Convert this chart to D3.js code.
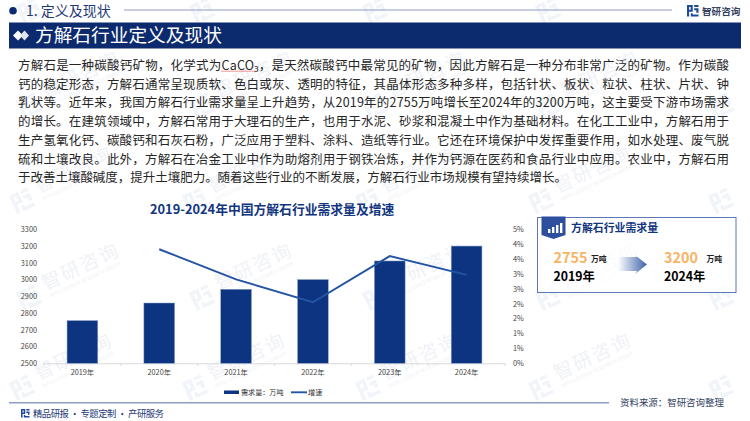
<!DOCTYPE html>
<html>
<head>
<meta charset="utf-8">
<script src="https://cdn.jsdelivr.net/npm/d3@7"></script>
<style>
    body { margin: 0; background: #fff; }
    svg { display: block; font-family: "Noto Sans CJK SC", "Noto Sans", sans-serif; }
</style>
</head>
<body>
<div id="chart"></div>
<script>
// chart data
const years = ["2019年", "2020年", "2021年", "2022年", "2023年", "2024年"];
const demand = [2755, 2860, 2942, 3000, 3111, 3200];
const growth = [null, 3.83, 2.82, 2.05, 3.6, 2.97];
const demandTicks = [2500, 2600, 2700, 2800, 2900, 3000, 3100, 3200, 3300];
const growthTicks = [0, 0.5, 1, 1.5, 2, 2.5, 3, 3.5, 4, 4.5];
const growthTickLabels = ["0%", "1%", "1%", "2%", "2%", "3%", "3%", "4%", "4%", "5%"];

const bodyLines = [
    "方解石是一种碳酸钙矿物，化学式为CaCO₃，是天然碳酸钙中最常见的矿物，因此方解石是一种分布非常广泛的矿物。作为碳酸",
    "钙的稳定形态，方解石通常呈现质软、色白或灰、透明的特征，其晶体形态多种多样，包括针状、板状、粒状、柱状、片状、钟",
    "乳状等。近年来，我国方解石行业需求量呈上升趋势，从2019年的2755万吨增长至2024年的3200万吨，这主要受下游市场需求",
    "的增长。在建筑领域中，方解石常用于大理石的生产，也用于水泥、砂浆和混凝土中作为基础材料。在化工工业中，方解石用于",
    "生产氢氧化钙、碳酸钙和石灰石粉，广泛应用于塑料、涂料、造纸等行业。它还在环境保护中发挥重要作用，如水处理、废气脱",
    "硫和土壤改良。此外，方解石在冶金工业中作为助熔剂用于钢铁冶炼，并作为钙源在医药和食品行业中应用。农业中，方解石用",
    "于改善土壤酸碱度，提升土壤肥力。随着这些行业的不断发展，方解石行业市场规模有望持续增长。"
];

const navy = "#0c2a6e";
const barBlue = "#0d3480";
const lineBlue = "#2454a4";
const ruleBlue = "#8c9dc6";
const textBlue = "#1f3a78";

const svg = d3.select("#chart").append("svg")
    .attr("width", 750)
    .attr("height", 421);

const defs = svg.append("defs");
const arrowGrad = defs.append("linearGradient").attr("id", "arrowGrad");
arrowGrad.append("stop").attr("offset", "0%").attr("stop-color", "#ffffff");
arrowGrad.append("stop").attr("offset", "100%").attr("stop-color", "#3f63ab");

// the little company mark, used by the header, footer and watermark
function drawLogo(parent, x, y, size, color) {
    const g = parent.append("g")
        .attr("transform", `translate(${x},${y}) scale(${size / 12})`)
        .attr("fill", color);
    g.append("path").attr("d", "M0 0H6V7H2.2V12H0Z M2.2 2V5H3.8V2Z").attr("fill-rule", "evenodd");
    g.append("path").attr("d", "M7.5 0H12V2H7.5Z M7.5 3.5H12V8H9.7V5.5H7.5Z M4 8.5H6V10H12V12H4Z");
}

// watermark: the top row and the right column only fit as logos, the words would run off the page
const markX = [13, 186, 359, 532];
const markY = [110, 205, 302, 392];
const watermark = svg.append("g");
markY.forEach((y, row) => {
    markX.forEach((x) => {
        const g = watermark.append("g")
            .attr("transform", `translate(${x + (row % 2 ? 0 : 7)},${y}) rotate(-25)`);
        drawLogo(g, 0, -10, 20, "#f1f4f9");
        g.append("text").attr("x", 28).attr("y", 0)
            .attr("font-size", 19).attr("letter-spacing", 2).attr("fill", "#f0f2f7")
            .text("智研咨询");
        g.append("text").attr("x", 29).attr("y", 9)
            .attr("font-size", 5).attr("fill", "#f0f2f7")
            .text("INTELLIGENCE RESEARCH GROUP");
    });
    const edge = watermark.append("g").attr("transform", `translate(712,${y}) rotate(-25)`);
    drawLogo(edge, 0, -10, 20, "#f1f4f9");
});
markX.forEach((x) => {
    const top = watermark.append("g").attr("transform", `translate(${x + 7},15) rotate(-25)`);
    drawLogo(top, 0, -10, 20, "#f1f4f9");
});

// header
svg.append("circle").attr("cx", 13).attr("cy", 10.7).attr("r", 3.8).attr("fill", navy);
svg.append("text").attr("x", 26).attr("y", 16)
    .attr("font-size", 14).attr("fill", textBlue).text("1. 定义及现状");
svg.append("line")
    .attr("x1", 124).attr("x2", 672).attr("y1", 10).attr("y2", 10)
    .attr("stroke", ruleBlue).attr("stroke-width", 1);
drawLogo(svg, 687, 5, 11.5, "#1f4a9c");
svg.append("text").attr("x", 702).attr("y", 14.5)
    .attr("font-size", 9.6).attr("font-weight", 700).attr("fill", "#33415f").text("智研咨询");

svg.append("rect").attr("x", 9).attr("y", 22.5).attr("width", 732).attr("height", 26).attr("fill", navy);
svg.append("path").attr("d", "M13 35.5L18 30.5L23 35.5L18 40.5Z").attr("fill", "#fff");
svg.append("path").attr("d", "M20 35.5L24.5 30.5L29 35.5L24.5 40.5Z").attr("fill", "#dfe4ee");
svg.append("text").attr("x", 35).attr("y", 42)
    .attr("font-size", 18.7).attr("fill", "#fff").text("方解石行业定义及现状");

// body text, each line stretched to the column like the justified original
const bodyWidths = [711, 711, 711, 711, 711, 711, 549];
svg.append("g").selectAll("text")
    .data(bodyLines)
    .join("text")
    .attr("x", 18)
    .attr("y", (d, i) => 69.9 + i * 18.75)
    .attr("font-size", 12.5)
    .attr("fill", "#262626")
    .attr("textLength", (d, i) => bodyWidths[i])
    .attr("lengthAdjust", "spacing")
    .text((d) => d);
svg.append("line")
    .attr("x1", 221).attr("x2", 255).attr("y1", 71.2).attr("y2", 71.2)
    .attr("stroke", "#e86a6a").attr("stroke-width", 0.7);

// chart
svg.append("text").attr("x", 150).attr("y", 214)
    .attr("font-size", 12.8).attr("font-weight", 700).attr("fill", "#12357f")
    .text("2019-2024年中国方解石行业需求量及增速");

const plot = { left: 44, right: 505, top: 229.3, bottom: 363.3 };
const x = d3.scaleBand().domain(years).range([plot.left, plot.right]).paddingInner(0.6).paddingOuter(0.3);
const yDemand = d3.scaleLinear().domain([2500, 3300]).range([plot.bottom, plot.top]);
const yGrowth = d3.scaleLinear().domain([0, 4.5]).range([plot.bottom, plot.top]);

// d3 puts its own font on the axis group, take it off so the page font applies
function styleAxis(axis) {
    axis.attr("font-family", null).attr("font-size", 7.3);
    axis.selectAll("text").attr("fill", "#444");
}

const axisBottom = svg.append("g")
    .attr("transform", `translate(0,${plot.bottom})`)
    .call(d3.axisBottom(x).tickSize(0).tickPadding(7));
axisBottom.select(".domain").attr("stroke", "#d9d9d9");
styleAxis(axisBottom);

svg.append("g").selectAll("line")
    .data(d3.range(years.length + 1))
    .join("line")
    .attr("x1", (d) => plot.left + d * x.step())
    .attr("x2", (d) => plot.left + d * x.step())
    .attr("y1", plot.bottom)
    .attr("y2", plot.bottom + 2.5)
    .attr("stroke", "#d9d9d9");

const axisLeft = svg.append("g")
    .attr("transform", `translate(${plot.left},0)`)
    .call(d3.axisLeft(yDemand).tickValues(demandTicks).tickFormat(d3.format("d")).tickSize(0).tickPadding(7));
axisLeft.select(".domain").remove();
styleAxis(axisLeft);

const axisRight = svg.append("g")
    .attr("transform", `translate(${plot.right},0)`)
    .call(d3.axisRight(yGrowth).tickValues(growthTicks)
        .tickFormat((d, i) => growthTickLabels[i]).tickSize(0).tickPadding(8));
axisRight.select(".domain").remove();
styleAxis(axisRight);

svg.append("g").selectAll("rect")
    .data(years)
    .join("rect")
    .attr("x", (d) => x(d))
    .attr("y", (d, i) => yDemand(demand[i]))
    .attr("width", x.bandwidth())
    .attr("height", (d, i) => plot.bottom - yDemand(demand[i]))
    .attr("fill", barBlue)
    .attr("stroke", "#8ea3cc")
    .attr("stroke-width", 0.5);

const growthLine = d3.line()
    .defined((d) => d != null)
    .x((d, i) => x(years[i]) + x.bandwidth() / 2)
    .y((d) => yGrowth(d));
svg.append("path")
    .attr("d", growthLine(growth))
    .attr("fill", "none")
    .attr("stroke", lineBlue)
    .attr("stroke-width", 1.9);

// legend
svg.append("rect").attr("x", 224).attr("y", 390.5).attr("width", 15).attr("height", 3.5).attr("fill", barBlue);
svg.append("text").attr("x", 241).attr("y", 395)
    .attr("font-size", 7.1).attr("fill", "#333").text("需求量：万吨");
svg.append("line").attr("x1", 291).attr("x2", 307).attr("y1", 392.3).attr("y2", 392.3)
    .attr("stroke", lineBlue).attr("stroke-width", 1.9);
svg.append("text").attr("x", 308).attr("y", 395)
    .attr("font-size", 7.2).attr("fill", "#333").text("增速");

// demand card on the right
svg.append("rect").attr("x", 537.5).attr("y", 217.5).attr("width", 198.5).attr("height", 75)
    .attr("fill", "#fff").attr("fill-opacity", 0.7).attr("stroke", "#5a78b8").attr("stroke-width", 1);
svg.append("path").attr("d", "M541.5 216.5H565.5V235L553.5 239L541.5 235Z").attr("fill", "#2d4f9e");
svg.append("g").selectAll("rect")
    .data([[548, 4], [552, 6], [556, 8], [560, 10]])
    .join("rect")
    .attr("x", (d) => d[0]).attr("y", (d) => 233 - d[1])
    .attr("width", 2.4).attr("height", (d) => d[1]).attr("fill", "#fff");
svg.append("text").attr("x", 571).attr("y", 231.5)
    .attr("font-size", 10.9).attr("font-weight", 700).attr("fill", "#12357f").text("方解石行业需求量");

const cardValues = [demand[0], demand[5]];
const cardYears = [years[0], years[5]];
const cardX = [553.5, 664];
const cardUnitX = [591, 706.5];
cardValues.forEach((v, i) => {
    svg.append("text").attr("x", cardX[i]).attr("y", 262.5)
        .attr("font-size", 14.4).attr("font-weight", 700).attr("fill", "#f8b465").text(v);
    svg.append("text").attr("x", cardUnitX[i]).attr("y", 261.5)
        .attr("font-size", 7.8).attr("font-weight", 700).attr("fill", "#222").text("万吨");
    svg.append("text").attr("x", cardX[i]).attr("y", 280.5)
        .attr("font-size", 12.3).attr("font-weight", 700).attr("fill", "#000").text(cardYears[i]);
});
svg.append("path")
    .attr("d", "M618 257H637L635 255L647 264.5L635 274L637 271H618Z")
    .attr("fill", "url(#arrowGrad)");

// footer
svg.append("line").attr("x1", 9).attr("x2", 609).attr("y1", 402.7).attr("y2", 402.7)
    .attr("stroke", ruleBlue).attr("stroke-width", 1.5);
drawLogo(svg, 21, 409, 8.5, "#1f4a9c");
svg.append("text").attr("x", 33).attr("y", 417)
    .attr("font-size", 9.4).attr("fill", textBlue)
    .attr("textLength", 131).attr("lengthAdjust", "spacing")
    .text("精品研报 · 专题定制 · 产研服务");
svg.append("text").attr("x", 620).attr("y", 405.5)
    .attr("font-size", 9.45).attr("fill", "#33415f").text("资料来源：智研咨询整理");
</script>
</body>
</html>
